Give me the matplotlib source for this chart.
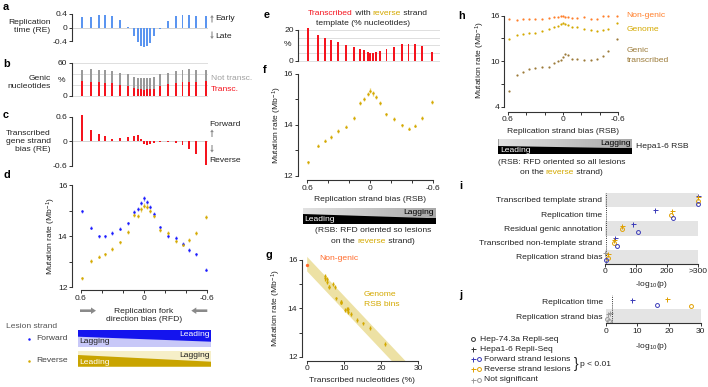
import matplotlib
matplotlib.use('Agg')
import matplotlib.pyplot as plt
import numpy as np
from matplotlib.patches import Polygon, FancyArrow

plt.rcParams['font.family'] = ['Liberation Sans', 'DejaVu Sans']
plt.rcParams['font.size'] = 6.1
plt.rcParams['mathtext.fontset'] = 'custom'
plt.rcParams['mathtext.rm'] = 'Liberation Sans'
plt.rcParams['mathtext.default'] = 'regular'
plt.rcParams['axes.linewidth'] = 0.8
plt.rcParams['axes.edgecolor'] = '#333333'
for a in ('xtick', 'ytick'):
    plt.rcParams[a + '.major.size'] = 2.5
    plt.rcParams[a + '.major.width'] = 0.7
    plt.rcParams[a + '.major.pad'] = 0.8
    plt.rcParams[a + '.color'] = '#333333'
    plt.rcParams[a + '.labelcolor'] = '#222222'
    plt.rcParams[a + '.labelsize'] = 6.1

# ---------- data ----------
# bin centres (RFD for a-d, RSB for e-h)
bins = [0.59, 0.50, 0.43, 0.37, 0.305, 0.23, 0.155, 0.095, 0.055, 0.025, 0.0,
        -0.025, -0.055, -0.095, -0.155, -0.23, -0.305, -0.365, -0.43, -0.49, -0.59]

rep_time = [0.32, 0.31, 0.36, 0.38, 0.33, 0.22, 0.01, -0.26, -0.42, -0.55, -0.57,
            -0.55, -0.45, -0.26, -0.04, 0.19, 0.35, 0.38, 0.38, 0.35, 0.34]
genic_all = [46, 48, 47, 46.7, 45, 42, 40, 34, 33, 32, 32, 32, 33, 34.5, 39, 42, 45, 47, 48, 47, 47]
genic_transc = [26.7, 25.5, 25.5, 24, 22.4, 19, 17, 13.3, 12, 11.5, 11, 11.5, 12, 13, 17.6,
                22, 23.6, 25, 25.5, 25.5, 26.7]
strand_bias = [0.64, 0.27, 0.17, 0.13, 0.05, 0.08, 0.10, 0.13, 0.145, 0.06, -0.08, -0.10,
               -0.06, -0.05, -0.03, -0.03, -0.04, -0.09, -0.19, -0.31, -0.58]

mut_fwd = [14.98, 14.34, 14.00, 14.00, 14.13, 14.30, 14.51, 14.94, 15.07, 15.31, 15.49,
           15.35, 15.16, 14.87, 14.35, 14.00, 13.95, 13.70, 13.46, 13.29, 12.69]
mut_rev = [12.35, 13.03, 13.20, 13.29, 13.51, 13.76, 14.16, 14.82, 14.81, 15.06, 15.20,
           15.16, 15.00, 14.78, 14.25, 14.14, 13.80, 13.67, 13.85, 14.14, 14.76]
mut_err = [0.07, 0.07, 0.07, 0.07, 0.07, 0.07, 0.07, 0.08, 0.08, 0.09, 0.09,
           0.09, 0.08, 0.08, 0.07, 0.07, 0.07, 0.07, 0.07, 0.07, 0.07]

rev_transc = [21, 17, 15, 13.5, 12, 10.4, 9.1, 7.6, 7.0, 5.4, 5.0, 5.0, 5.4, 6.1, 7.8,
              9.1, 11.1, 11.1, 10.9, 9.3, 5.9]
mut_rsb = [12.52, 13.18, 13.38, 13.52, 13.76, 13.93, 14.28, 14.87, 15.00, 15.21, 15.34,
           15.24, 15.08, 14.87, 14.41, 14.23, 13.98, 13.85, 13.97, 14.27, 14.90]
nongenic_rate = 15.78
# regression band in g (intercept, slope, half width)
fit_intercept, fit_slope, fit_half = 15.85, -0.163, 0.3

h_nongenic = [15.52, 15.47, 15.56, 15.56, 15.52, 15.56, 15.65, 15.78, 15.82, 15.91, 15.96,
              15.87, 15.82, 15.74, 15.74, 15.78, 15.60, 15.52, 15.96, 15.91, 15.96]
h_genome = [12.88, 13.41, 13.58, 13.67, 13.71, 13.93, 14.24, 14.46, 14.68, 14.86, 14.99,
            14.90, 14.77, 14.55, 14.46, 14.24, 14.11, 13.93, 14.11, 14.24, 15.08]
h_genic = [6.11, 8.13, 8.57, 8.92, 9.10, 9.27, 9.27, 9.80, 10.07, 10.15, 10.59,
           10.90, 10.86, 10.24, 10.24, 10.20, 10.15, 10.33, 10.64, 11.30, 12.97]

i_rows = ['Transcribed template strand', 'Replication time', 'Residual genic annotation',
          'Transcribed non-template strand', 'Replication strand bias']
i_hepa_fwd = [300, 162, 92, 32, 1]
i_hepa_rev = [300, 218, 56, 29, 9]
i_hep74_fwd = [300, 221, 106, 38, 4]
i_hep74_rev = [300, 214, 54, 29, 9]

j_rows = ['Replication time', 'Replication strand bias']
j_hepa_fwd = [8.3, 0.8]
j_hepa_rev = [19.3, 1.2]
j_hep74_fwd = [16.1, 0.5]
j_hep74_rev = [26.9, 1.0]

# ---------- colours ----------
BAR_BLUE = '#5b95f0'
RED = '#f5141e'
GREY_BAR = '#9a9a9a'
BLUE = '#1a1aff'
BLUE_L = '#8080ff'
GOLD = '#d4a900'
GOLD_L = '#e8cf6a'
ORANGE = '#ff6a2a'
BROWN = '#9c7b3a'
MBLUE = '#3a3ab8'
MGOLD = '#e0a000'
NS = '#9a9a9a'
TXT = '#222222'

W, H = 708, 387
fig = plt.figure(figsize=(W / 100, H / 100), dpi=100)


def px_axes(box, xcal, ycal):
    x0, y0, x1, y1 = box
    ax = fig.add_axes([x0 / W, 1 - y1 / H, (x1 - x0) / W, (y1 - y0) / H])
    ax.set_facecolor('none')
    (va, pa), (vb, pb) = xcal
    sx = (vb - va) / (pb - pa)
    ax.set_xlim(va + (x0 - pa) * sx, va + (x1 - pa) * sx)
    (wa, qa), (wb, qb) = ycal
    sy = (wb - wa) / (qb - qa)
    ax.set_ylim(wa + (y1 - qa) * sy, wa + (y0 - qa) * sy)
    ax.spines['top'].set_visible(False)
    ax.spines['right'].set_visible(False)
    return ax


RFD_CAL = ((0.6, 80.7), (-0.6, 207.3))
RSB_F = ((0.6, 307.2), (-0.6, 433.2))
RSB_H = ((0.6, 507.7), (-0.6, 618.3))
bin_ticks = [0.6, 0.4, 0.2, 0, -0.2, -0.4, -0.6]
bin_labels = ['0.6', '', '', '0', '', '', '-0.6']

# a
ax = px_axes((72, 8, 208, 50), RFD_CAL, ((0.4, 14), (-0.4, 41)))
ax.bar(bins, rep_time, width=0.018, color=BAR_BLUE)
ax.axhline(0, color='#cccccc', lw=0.6, zorder=0)
ax.spines['bottom'].set_visible(False)
ax.spines['left'].set_bounds(-0.4, 0.4)
ax.set_xticks([])
ax.set_yticks([-0.4, 0, 0.4], ['-0.4', '0', '0.4'])

# b
ax = px_axes((72, 60, 208, 97), RFD_CAL, ((60, 62.7), (0, 95.7)))
for v in (0, 20, 40, 60):
    ax.axhline(v, color='#d9d9d9', lw=0.6, zorder=0)
ax.bar(bins, genic_all, width=0.018, color=GREY_BAR)
ax.bar(bins, genic_transc, width=0.018, color=RED)
ax.spines['bottom'].set_visible(False)
ax.spines['left'].set_bounds(0, 60)
ax.set_xticks([])
ax.set_yticks([0, 60], ['0', '60'])

# c
ax = px_axes((72, 112, 208, 168), RFD_CAL, ((0.6, 116.7), (-0.6, 165.7)))
ax.axhline(0, color='#cccccc', lw=0.6, zorder=0)
ax.bar(bins, strand_bias, width=0.018, color=RED)
ax.spines['bottom'].set_visible(False)
ax.spines['left'].set_bounds(-0.6, 0.6)
ax.set_xticks([])
ax.set_yticks([-0.6, 0, 0.6], ['-0.6', '0', '0.6'])

# d
ax = px_axes((72, 180, 212, 290), RFD_CAL, ((16, 185.3), (12, 287.3)))
ax.errorbar(bins, mut_fwd, yerr=mut_err, fmt='o', ms=1.8, mew=0, color=BLUE,
            ecolor=BLUE_L, elinewidth=0.9, capsize=0)
ax.errorbar(bins, mut_rev, yerr=mut_err, fmt='o', ms=1.8, mew=0, color=GOLD,
            ecolor=GOLD_L, elinewidth=0.9, capsize=0)
ax.spines['left'].set_bounds(12, 16)
ax.spines['bottom'].set_bounds(-0.6, 0.6)
ax.set_yticks([12, 13, 14, 15, 16], ['12', '', '14', '', '16'])
ax.set_xticks(bin_ticks, bin_labels)

# e
ax = px_axes((298.3, 26, 440, 62), RSB_F, ((20, 30), (0, 60.7)))
for v in (0, 5, 10, 15, 20):
    ax.axhline(v, color='#d9d9d9', lw=0.6, zorder=0)
ax.bar(bins, rev_transc, width=0.018, color=RED)
ax.spines['bottom'].set_visible(False)
ax.spines['left'].set_bounds(0, 20)
ax.set_xticks([])
ax.set_yticks([0, 20], ['0', '20'])

# f
ax = px_axes((297.7, 70, 440, 180), RSB_F, ((16, 74), (12, 175.7)))
ax.errorbar(bins, mut_rsb, yerr=mut_err, fmt='o', ms=1.8, mew=0, color=GOLD,
            ecolor=GOLD_L, elinewidth=0.9, capsize=0)
ax.spines['left'].set_bounds(12, 16)
ax.spines['bottom'].set_bounds(-0.6, 0.6)
ax.set_yticks([12, 13, 14, 15, 16], ['12', '', '14', '', '16'])
ax.set_xticks(bin_ticks, bin_labels)

# g
ax = px_axes((302, 252, 430, 360.7), ((0, 306.7), (30, 418.3)), ((16, 260), (12, 356.7)))
xx = np.linspace(0, 28, 50)
yy = fit_intercept + fit_slope * xx
ax.fill_between(xx, yy - fit_half, yy + fit_half, color='#ede1a4', lw=0, zorder=0)
ax.errorbar(rev_transc, mut_rsb, yerr=mut_err, fmt='o', ms=1.6, mew=0, color=GOLD,
            ecolor=GOLD, elinewidth=0.9, capsize=0)
ax.plot([0], [nongenic_rate], 'o', ms=2.4, mew=0, color=ORANGE, clip_on=False)
ax.spines['left'].set_bounds(12, 16)
ax.spines['bottom'].set_bounds(0, 30)
ax.set_yticks([12, 13, 14, 15, 16], ['12', '', '14', '', '16'])
ax.set_xticks([0, 10, 20, 30])

# h
ax = px_axes((504.3, 10, 625, 111.7), RSB_H, ((16, 15.7), (4, 106.7)))
ax.plot(bins, h_nongenic, 'o', ms=1.6, mew=0, color='#ff7f2a')
ax.plot(bins, h_genome, 'o', ms=1.6, mew=0, color=GOLD)
ax.plot(bins, h_genic, 'o', ms=1.6, mew=0, color=BROWN)
ax.spines['left'].set_bounds(4, 16)
ax.spines['bottom'].set_bounds(-0.6, 0.6)
ax.set_yticks([4, 7, 10, 13, 16], ['4', '', '10', '', '16'])
ax.set_xticks(bin_ticks, bin_labels)


def row_panel(box, xcal, rows, series, bands, ticks, labels):
    n = len(rows)
    y0, y1 = box[1], box[3]
    ax = px_axes(box, xcal, ((-0.5, y0), (n - 0.5, y1)))
    for r in bands:
        ax.axhspan(r - 0.5, r + 0.5, color='#e4e4e4', lw=0, zorder=0)
    ax.axvline(2, color='#333333', lw=0.7, ls=(0, (1, 1.2)))
    for vals, mk, col, off in series:
        for r, v in enumerate(vals):
            c = col if v > 2 else NS
            if mk == '+':
                ax.plot(v, r + off, '+', ms=3.6, mew=0.7, color=c, clip_on=False)
            else:
                ax.plot(v, r + off, 'o', ms=2.8, mew=0.7, mfc='none', mec=c, clip_on=False)
    ax.spines['left'].set_visible(False)
    ax.spines['bottom'].set_bounds(ticks[0], ticks[-1])
    ax.set_yticks(range(n), rows)
    ax.tick_params(axis='y', length=0, pad=2)
    ax.set_xticks(ticks, labels)
    return ax


row_panel((605, 192.9, 697.7, 263.9), ((0, 605), (300, 697.7)), i_rows,
          [(i_hepa_fwd, '+', MBLUE, -0.3), (i_hepa_rev, '+', MGOLD, -0.2),
           (i_hep74_rev, 'o', MGOLD, 0.06), (i_hep74_fwd, 'o', MBLUE, 0.25)],
          [0, 2, 4], [0, 100, 200, 300], ['0', '100', '200', '>300'])
row_panel((605.7, 294.5, 700.7, 323.3), ((0, 605.7), (30, 700.7)), j_rows,
          [(j_hepa_fwd, '+', MBLUE, -0.12), (j_hepa_rev, '+', MGOLD, -0.2),
           (j_hep74_fwd, 'o', MBLUE, 0.2), (j_hep74_rev, 'o', MGOLD, 0.32)],
          [1], [0, 10, 20, 30], ['0', '10', '20', '30'])

# ---------- overlay in pixel coordinates ----------
ov = fig.add_axes([0, 0, 1, 1])
ov.set_xlim(0, W)
ov.set_ylim(H, 0)
ov.axis('off')
rend = fig.canvas.get_renderer()


def t(x, y, s, **kw):
    kw.setdefault('va', 'center')
    kw.setdefault('color', TXT)
    return ov.text(x, y, s, **kw)


def text_w(s, **kw):
    tmp = ov.text(0, 0, s, **kw)
    w = tmp.get_window_extent(rend).width
    tmp.remove()
    return w


def rich(xc, y, parts, **kw):
    full = ''.join(p for p, c in parts)
    total = text_w(full, **kw)
    base = text_w('x', **kw)
    prefix = ''
    for s, c in parts:
        off = text_w(prefix + 'x', **kw) - base if prefix else 0
        t(xc - total / 2 + off, y, s, color=c, ha='left', **kw)
        prefix += s


def varrow(x, y, dy):
    ov.add_patch(FancyArrow(x, y, 0, dy, width=1.1, head_width=3.6, head_length=2.6,
                            length_includes_head=True, color='#8a8a8a', lw=0))


def harrow(x, y, dx):
    ov.add_patch(FancyArrow(x, y, dx, 0, width=2.6, head_width=6.5, head_length=5,
                            length_includes_head=True, color='#8a8a8a', lw=0))


for s, x, y in [('a', 3, 6.5), ('b', 3, 64), ('c', 3, 115), ('d', 3, 175), ('e', 264, 15),
                ('f', 263, 70), ('g', 266, 255), ('h', 458, 15.7), ('i', 459, 185.7),
                ('j', 459, 295)]:
    t(x, y, s, fontsize=7.8, fontweight='bold', color='black')

t(50.5, 27, 'Replication\ntime (RE)', ha='right')
t(50.5, 82.3, 'Genic\nnucleotides', ha='right')
t(62, 80, '%', ha='center')
t(50.5, 141.3, 'Transcribed\ngene strand\nbias (RE)', ha='right')

varrow(212, 22.5, -7.5)
t(215.5, 18.3, 'Early')
varrow(212, 31.5, 7.5)
t(215.5, 36, 'Late')
t(211, 78, 'Not transc.', color='#a0a0a0')
t(211, 89.5, 'Transc.', color=RED)
t(209, 125, 'Forward')
varrow(212, 137, -7.5)
varrow(212, 145, 7.5)
t(209, 160.7, 'Reverse')

t(51.5, 236, 'Mutation rate (Mb$^{-1}$)', rotation=90, ha='center')
t(144, 315.7, 'Replication fork\ndirection bias (RFD)', ha='center')
harrow(80, 310.7, 16)
harrow(207.3, 310.7, -16)

t(6, 326, 'Lesion strand', color='#555555')
ov.plot([29], [338.7], 'o', ms=1.8, mew=0, color=BLUE)
t(36.5, 338.7, 'Forward', color='#444444')
ov.plot([29], [360.7], 'o', ms=1.8, mew=0, color=GOLD)
t(36.5, 360.7, 'Reverse', color='#444444')

# strand wedge bars for panel d
ov.add_patch(Polygon([(78, 330), (211, 330), (211, 346.7), (78, 346.7)], color='#c8c8f8', lw=0))
ov.add_patch(Polygon([(78, 330), (211, 330), (211, 341.7), (78, 336.7)], color='#1414ee', lw=0))
t(209.5, 335, 'Leading', ha='right', color='white')
t(79, 341.5, 'Lagging', ha='left', color=TXT)
ov.add_patch(Polygon([(78, 350.7), (211, 350.7), (211, 366.7), (78, 366.7)], color='#f6efc8', lw=0))
ov.add_patch(Polygon([(78, 355), (211, 361.7), (211, 366.7), (78, 366.7)], color='#c9a400', lw=0))
t(209.5, 355.3, 'Lagging', ha='right', color=TXT)
t(79, 362.3, 'Leading', ha='left', color='white')


def rsb_bar(x0, x1, y0, y1, yl, yr):
    ov.add_patch(Polygon([(x0, y0), (x1, y0), (x1, y1), (x0, y1)], color='black', lw=0))
    top = Polygon([(x0, y0), (x1, y0), (x1, yr), (x0, yl)], facecolor='none', lw=0)
    ov.add_patch(top)
    grad = np.linspace(0, 1, 64).reshape(1, -1)
    cmap = matplotlib.colors.LinearSegmentedColormap.from_list('g', ['#e2e2e2', '#a8a8a8'])
    im = ov.imshow(grad, extent=(x0, x1, max(yl, yr), y0), cmap=cmap,
                   aspect='auto', interpolation='bilinear', zorder=1.5)
    im.set_clip_path(top)
    t(x1 - 2, (y0 + yr) / 2 - 0.5, 'Lagging', ha='right', color='black', zorder=3)
    t(x0 + 2, (yl + y1) / 2 + 0.8, 'Leading', ha='left', color='white', zorder=3)


rsb_bar(302.7, 436, 208, 224.3, 214, 218.3)
rsb_bar(498.3, 632.3, 139, 154.3, 146, 148.3)
ov.set_xlim(0, W)
ov.set_ylim(H, 0)

# e title
rich(367.5, 13.3, [('Transcribed', RED), (' with ', TXT), ('reverse', GOLD), (' strand', TXT)])
t(363, 23.7, 'template (% nucleotides)', ha='center')
t(288, 45, '%', ha='center')

# f
t(277.5, 125, 'Mutation rate (Mb$^{-1}$)', rotation=90, ha='center')
t(370.5, 199.3, 'Replication strand bias (RSB)', ha='center')
t(372.8, 231, '(RSB: RFD oriented so lesions', ha='center')
rich(372.8, 241.7, [('on the ', TXT), ('reverse', GOLD), (' strand)', TXT)])

# g
t(276.7, 308, 'Mutation rate (Mb$^{-1}$)', rotation=90, ha='center')
t(362, 380, 'Transcribed nucleotides (%)', ha='center')
t(319.3, 259, 'Non-genic', color=ORANGE)
t(364, 294.3, 'Genome', color=GOLD)
t(364, 304.3, 'RSB bins', color=GOLD)

# h
t(480, 60, 'Mutation rate (Mb$^{-1}$)', rotation=90, ha='center')
t(626.7, 15.7, 'Non-genic', color='#ff7f2a')
t(626.7, 29.7, 'Genome', color=GOLD)
t(626.7, 50.7, 'Genic', color=BROWN)
t(626.7, 60.7, 'transcribed', color=BROWN)
t(562.8, 131.7, 'Replication strand bias (RSB)', ha='center')
t(635.7, 146, 'Hepa1-6 RSB')
t(561.7, 162.3, '(RSB: RFD oriented so all lesions', ha='center')
rich(561.3, 172.3, [('on the ', TXT), ('reverse', GOLD), (' strand)', TXT)])

# i, j axis labels
t(651.7, 284.3, '-log$_{10}$(p)', ha='center')
t(651.3, 346.7, '-log$_{10}$(p)', ha='center')

# legend for i, j
legend_rows = [
    (339.3, [('o', '#333333', 473)], 'Hep-74.3a Repli-seq', 479.5),
    (349.3, [('+', '#333333', 473)], 'Hepa1-6 Repli-Seq', 479.5),
    (359.3, [('+', MBLUE, 473), ('o', MBLUE, 478.5)], 'Forward strand lesions', 483.5),
    (369.3, [('+', MGOLD, 473), ('o', MGOLD, 478.5)], 'Reverse strand lesions', 483.5),
    (379.8, [('+', NS, 473), ('o', NS, 478.5)], 'Not significant', 483.5),
]
for y, marks, label, xt in legend_rows:
    for mk, c, x in marks:
        if mk == '+':
            ov.plot([x], [y], '+', ms=3.6, mew=0.7, color=c)
        else:
            ov.plot([x], [y], 'o', ms=2.8, mew=0.7, mfc='none', mec=c)
    t(xt, y, label)
t(576, 364, '}', fontsize=10, ha='center')
t(580.5, 364.5, 'p < 0.01')

fig.savefig('out.png', dpi=100)
